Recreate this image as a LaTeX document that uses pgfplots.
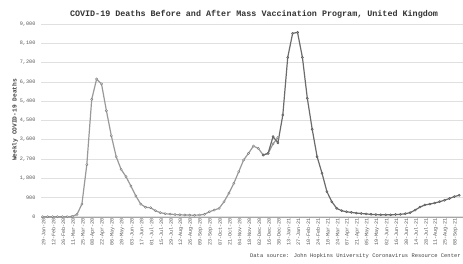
\documentclass[border=0pt]{standalone}
\usepackage{fontspec}
\setmainfont{Liberation Mono}
\usepackage{pgfplots}
\pgfplotsset{compat=1.18}
\usepackage{pgfplotstable}

\pgfplotstableread{
x y
0 0
1 0
2 0
3 0
4 0
5 0
6 10
7 110
8 590
9 2430
10 5480
11 6430
12 6200
13 4950
14 3780
15 2800
16 2210
17 1870
18 1430
19 970
20 590
21 440
22 420
23 280
24 190
25 140
26 120
27 100
28 90
29 80
30 75
31 70
32 80
33 110
34 230
35 310
36 390
37 700
38 1100
39 1560
40 2100
41 2650
42 2960
43 3300
44 3190
45 2880
46 2960
47 3400
48 3700
}\before

\pgfplotstableread{
x y
45 2880
46 2960
47 3740
48 3450
49 4750
50 7440
51 8560
52 8610
53 7440
54 5530
55 4080
56 2800
57 2030
58 1170
59 700
60 390
61 280
62 230
63 200
64 170
65 150
66 130
67 110
68 100
69 90
70 90
71 90
72 100
73 110
74 140
75 190
76 310
77 450
78 550
79 590
80 640
81 700
82 770
83 850
84 940
85 1000
}\after

\begin{document}
\begin{tikzpicture}
\begin{axis}[
  name=ax, at={(0,0)}, anchor=south west,
  scale only axis, width=439pt, height=192.7pt,
  xmin=-0.35, xmax=89.24, ymin=0, ymax=9000,
  axis x line*=bottom, x axis line style={-, draw=black!35},
  axis y line*=left, y axis line style={-, draw=none},
  ymajorgrids, grid style={draw=black!12, line width=0.5pt},
  major tick length=0pt,
  ytick={0,900,...,9000},
  /pgf/number format/assume math mode=true,
  /pgf/number format/.cd, 1000 sep={,}, /pgfplots/.cd,
  yticklabel style={font=\fontsize{5.2}{6}\selectfont, text=black!65, anchor=east, xshift=-2pt},
  xtick={0,2,...,84},
  xticklabels={29-Jan-20,12-Feb-20,26-Feb-20,11-Mar-20,25-Mar-20,08-Apr-20,22-Apr-20,06-May-20,20-May-20,03-Jun-20,17-Jun-20,01-Jul-20,15-Jul-20,29-Jul-20,12-Aug-20,26-Aug-20,09-Sep-20,23-Sep-20,07-Oct-20,21-Oct-20,04-Nov-20,18-Nov-20,02-Dec-20,16-Dec-20,30-Dec-20,13-Jan-21,27-Jan-21,10-Feb-21,24-Feb-21,10-Mar-21,24-Mar-21,07-Apr-21,21-Apr-21,05-May-21,19-May-21,02-Jun-21,16-Jun-21,30-Jun-21,14-Jul-21,28-Jul-21,11-Aug-21,25-Aug-21,08-Sep-21},
  xticklabel style={font=\fontsize{5.2}{6}\selectfont, text=black!65, rotate=90, anchor=east, inner sep=1pt, yshift=-1pt},
  clip=false,
]
\addplot[color=black!40, line width=1.2pt, mark=*, mark size=1.1pt, mark options={fill=white, draw=black!50, line width=0.5pt}] table[x=x,y=y] {\before};
\addplot[color=black!58, line width=1.2pt, mark=*, mark size=1.1pt, mark options={fill=black!40, draw=black!65, line width=0.4pt}] table[x=x,y=y] {\after};
\end{axis}
\node[font=\bfseries\fontsize{8.4}{10}\selectfont, text=black!80] at ([shift={(213pt,202.7pt)}]ax.south west) {COVID-19 Deaths Before and After Mass Vaccination Program, United Kingdom};
\node[font=\bfseries\fontsize{6.2}{7}\selectfont, text=black!75, rotate=90] at ([shift={(-26pt,96.7pt)}]ax.south west) {Weekly COVID-19 Deaths};
\node[font=\fontsize{5.45}{7}\selectfont, text=black!75, anchor=west, inner sep=0pt] at ([shift={(209pt,-39.3pt)}]ax.south west) {Data source: John Hopkins University Coronavirus Resource Center};
\pgfresetboundingbox
\path[use as bounding box] ([shift={(-41pt,-46.3pt)}]ax.south west) rectangle ([shift={(422pt,216.7pt)}]ax.south west);
\end{tikzpicture}
\end{document}
